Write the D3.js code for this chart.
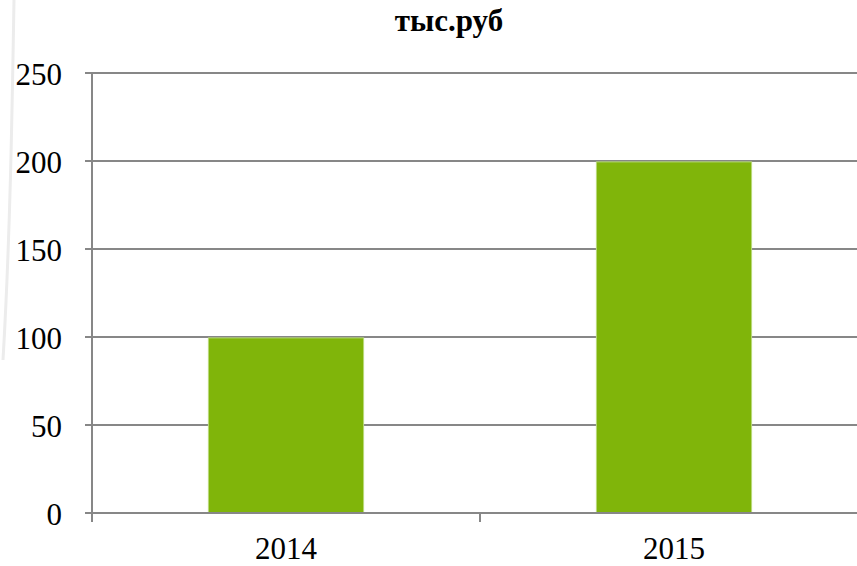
<!DOCTYPE html>
<html>
<head>
<meta charset="utf-8">
<script src="https://cdn.jsdelivr.net/npm/d3@7"></script>
<style>
  html, body { margin: 0; padding: 0; background: #fff; overflow: hidden; }
  svg { display: block; }
  text { font-family: "Liberation Serif", "Times New Roman", "DejaVu Serif", serif; fill: #000; }
</style>
</head>
<body>
<svg id="chart" width="857" height="566"></svg>
<script>
const title = 'тыс.руб';
const years = ['2014', '2015'];
const values = [99.5, 199.5];
const yTicks = [0, 50, 100, 150, 200, 250];

const plot = { left: 92, top: 73, right: 868, bottom: 513 };

const svg = d3.select('#chart');

// faint decorative curve at the left edge of the slide
svg.append('path')
  .attr('d', 'M14,0 C12,120 10,240 3,360')
  .style('fill', 'none')
  .style('stroke', '#ececec')
  .style('stroke-width', 3);

const x = d3.scaleBand()
  .domain(years)
  .range([plot.left, plot.right])
  .paddingInner(0.6)
  .paddingOuter(0.3);

const y = d3.scaleLinear()
  .domain([0, 250])
  .range([plot.bottom, plot.top]);

// gridlines + y ticks
svg.append('g').attr('class', 'grid').selectAll('line')
  .data(yTicks)
  .enter().append('line')
    .attr('x1', plot.left - 7)
    .attr('x2', plot.right)
    .attr('y1', d => y(d))
    .attr('y2', d => y(d))
    .style('stroke', '#878787')
    .style('stroke-width', 2);

// y labels
svg.append('g').selectAll('text')
  .data(yTicks)
  .enter().append('text')
    .attr('x', 62)
    .attr('y', d => y(d) + 12)
    .attr('text-anchor', 'end')
    .style('font-size', '31px')
    .text(d => d);

// bars
svg.append('g').selectAll('rect')
  .data(years.map((k, i) => ({ k, v: values[i] })))
  .enter().append('rect')
    .attr('x', d => x(d.k))
    .attr('y', d => y(d.v))
    .attr('width', x.bandwidth())
    .attr('height', d => y(0) - y(d.v))
    .style('fill', '#80b50a')
    .style('stroke', '#b9d97a')
    .style('stroke-width', 1);

// y axis line
svg.append('line')
  .attr('x1', plot.left).attr('x2', plot.left)
  .attr('y1', plot.top).attr('y2', plot.bottom + 9)
  .style('stroke', '#878787')
  .style('stroke-width', 2);

// x axis line + category boundary ticks
svg.append('line')
  .attr('x1', plot.left - 7).attr('x2', plot.right)
  .attr('y1', plot.bottom).attr('y2', plot.bottom)
  .style('stroke', '#878787')
  .style('stroke-width', 2);

const step = x.step();
const bounds = d3.range(years.length + 1).map(i => plot.left + i * step);
svg.append('g').selectAll('line')
  .data(bounds)
  .enter().append('line')
    .attr('x1', d => d).attr('x2', d => d)
    .attr('y1', plot.bottom).attr('y2', plot.bottom + 9)
    .style('stroke', '#878787')
    .style('stroke-width', 2);

// x labels
svg.append('g').selectAll('text')
  .data(years)
  .enter().append('text')
    .attr('x', d => x(d) + x.bandwidth() / 2)
    .attr('y', 559)
    .attr('text-anchor', 'middle')
    .style('font-size', '31px')
    .text(d => d);

// title
svg.append('text')
  .attr('x', 449)
  .attr('y', 31)
  .attr('text-anchor', 'middle')
  .style('font-family', '"Liberation Serif", "DejaVu Serif", serif')
  .style('font-size', '31px')
  .style('font-weight', 'bold')
  .text(title);
</script>
</body>
</html>
